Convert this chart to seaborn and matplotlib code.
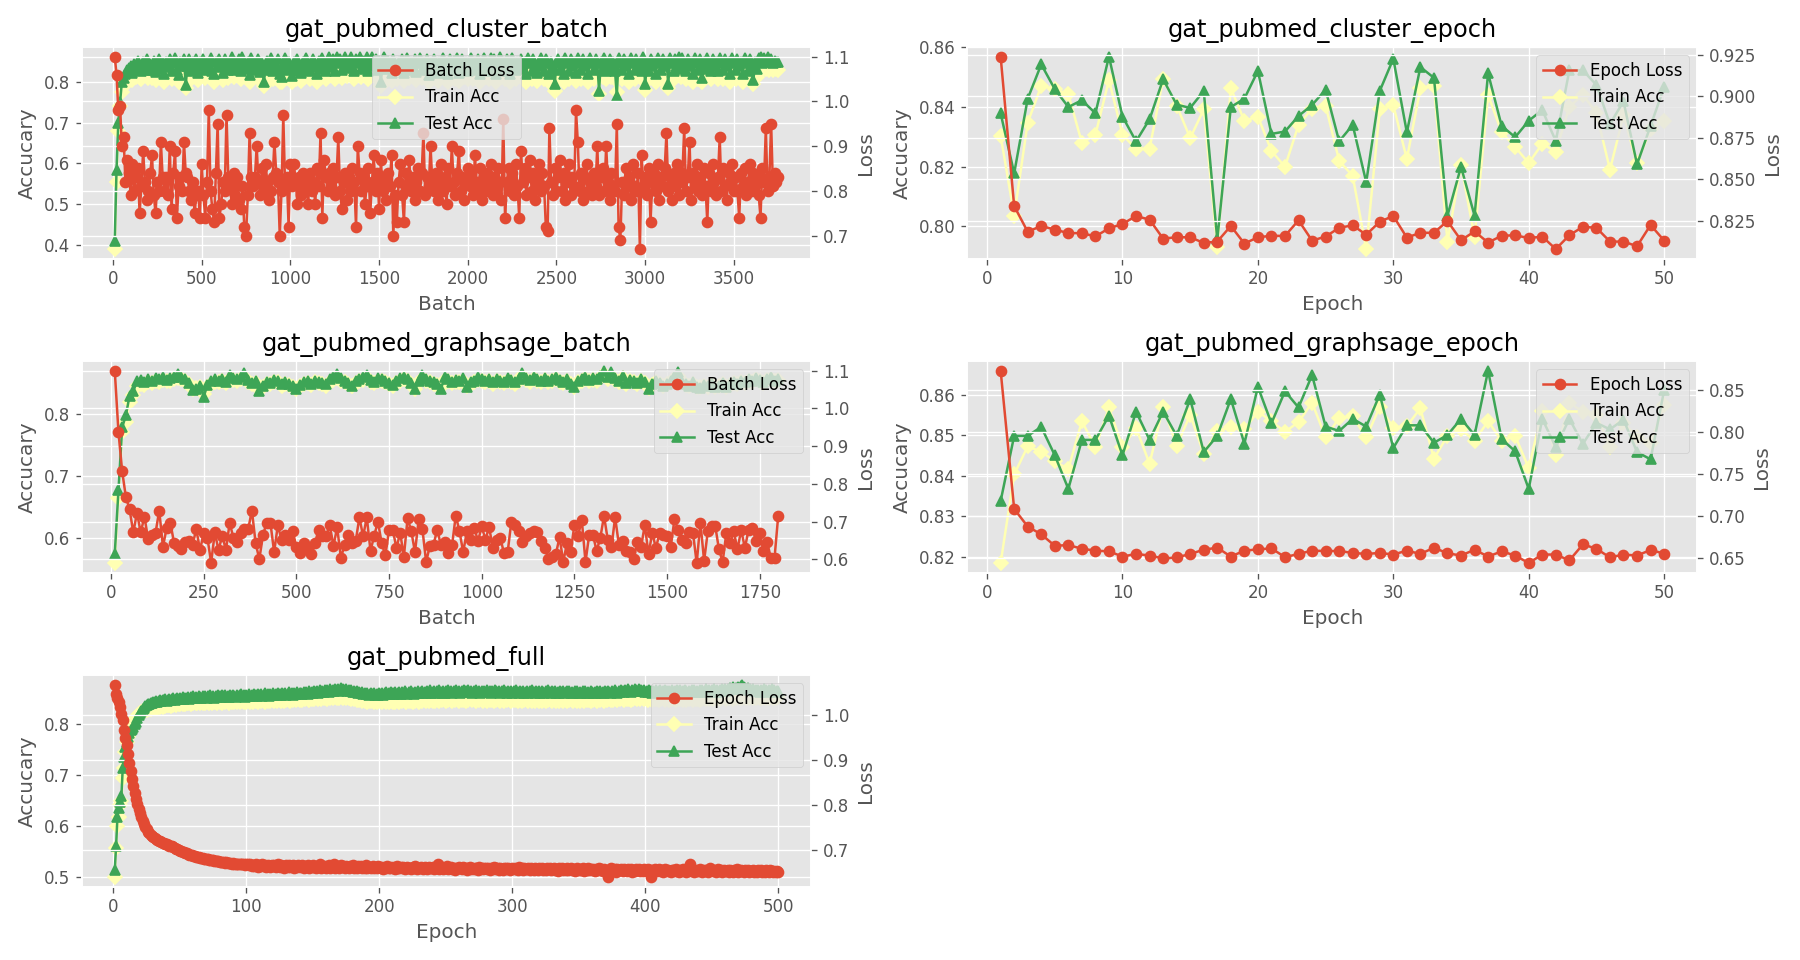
import matplotlib
matplotlib.use("Agg")
import matplotlib.pyplot as plt
import seaborn as sns

# ---------------- data ----------------
# gat_pubmed_cluster_batch (logged every 10 batches)
cb_step = 10
cb_loss = [1.10,1.06,.98,.99,.90,.92,.82,.87,.84,.79,
 .86,.80,.83,.85,.75,.81,.89,.82,.78,.80,
 .84,.88,.79,.75,.82,.80,.91,.83,.80,.83,
 .79,.90,.76,.84,.89,.74,.81,.83,.80,.91,
 .84,.83,.80,.78,.82,.75,.79,.80,.74,.86,
 .79,.74,.82,.98,.80,.76,.73,.84,.95,.74,
 .77,.82,.80,.97,.83,.81,.77,.84,.79,.83,
 .78,.76,.81,.72,.70,.79,.93,.83,.81,.83,
 .90,.82,.79,.85,.80,.86,.82,.78,.80,.83,
 .91,.84,.82,.70,.80,.97,.81,.83,.72,.86,
 .81,.86,.82,.77,.83,.79,.84,.80,.82,.77,
 .84,.80,.82,.77,.85,.81,.93,.74,.87,.83,
 .80,.84,.81,.85,.79,.83,.92,.80,.76,.82,
 .84,.78,.83,.80,.85,.82,.72,.90,.84,.80,
 .83,.77,.81,.85,.75,.82,.88,.80,.84,.76,
 .87,.80,.83,.78,.84,.81,.88,.70,.79,.73,
 .82,.86,.79,.73,.84,.81,.87,.80,.83,.78,
 .82,.85,.80,.84,.93,.79,.83,.81,.90,.82,
 .80,.84,.78,.82,.86,.80,.83,.77,.85,.81,
 .90,.82,.79,.84,.89,.80,.83,.78,.82,.85,
 .81,.84,.79,.88,.82,.80,.85,.78,.83,.80,
 .84,.81,.86,.79,.83,.80,.85,.82,.78,.96,
 .74,.82,.85,.80,.84,.79,.86,.81,.74,.89,
 .82,.85,.79,.83,.87,.80,.84,.78,.82,.86,
 .80,.84,.81,.72,.71,.94,.82,.79,.85,.80,
 .83,.87,.80,.84,.78,.82,.86,.79,.83,.81,
 .98,.91,.80,.84,.78,.83,.86,.80,.82,.79,
 .84,.81,.90,.79,.83,.85,.80,.90,.82,.78,
 .84,.81,.80,.95,.72,.69,.82,.79,.85,.81,
 .83,.78,.86,.81,.80,.84,.67,.88,.80,.83,
 .79,.85,.73,.82,.84,.80,.86,.78,.83,.81,
 .85,.93,.80,.83,.78,.84,.81,.86,.79,.82,
 .84,.94,.80,.83,.91,.78,.84,.81,.86,.80,
 .83,.79,.85,.81,.73,.84,.80,.86,.82,.79,
 .83,.92,.80,.85,.81,.78,.84,.82,.86,.80,
 .83,.80,.74,.84,.81,.85,.79,.82,.86,.80,
 .84,.81,.83,.79,.74,.85,.82,.94,.80,.83,
 .95,.81,.84,.82,.83]
cb_train = [.39,.555,.68,.74,.775,.79,.80,.81,.815,.82,
 .805,.826,.812,.834,.82,.806,.83,.816,.836,.81,
 .826,.81,.834,.805,.825,.838,.812,.828,.80,.83,
 .818,.836,.806,.828,.84,.812,.80,.832,.82,.838,
 .785,.822,.836,.808,.83,.816,.838,.804,.832,.82,
 .836,.81,.828,.82,.84,.806,.80,.832,.816,.836,
 .82,.804,.836,.826,.81,.828,.842,.812,.832,.818,
 .838,.806,.842,.82,.812,.832,.80,.84,.81,.828,
 .818,.838,.805,.828,.79,.82,.834,.808,.84,.806,
 .828,.81,.836,.80,.80,.822,.84,.81,.832,.816,
 .80,.83,.806,.838,.82,.802,.832,.812,.84,.822,
 .806,.83,.838,.816,.80,.834,.812,.84,.824,.806,
 .828,.842,.816,.836,.806,.844,.828,.838,.81,.832,
 .842,.814,.834,.844,.82,.806,.838,.828,.842,.812,
 .834,.818,.842,.806,.83,.844,.82,.838,.81,.834,
 .79,.828,.842,.812,.834,.818,.802,.838,.822,.808,
 .832,.812,.836,.802,.828,.84,.81,.832,.816,.838,
 .804,.828,.84,.81,.832,.816,.838,.80,.828,.82,
 .836,.812,.802,.832,.82,.84,.808,.828,.80,.836,
 .82,.834,.808,.84,.802,.828,.838,.812,.832,.806,
 .828,.84,.808,.832,.818,.838,.80,.828,.84,.812,
 .832,.806,.84,.82,.838,.80,.828,.842,.812,.832,
 .806,.838,.822,.80,.84,.828,.808,.832,.818,.838,
 .812,.832,.80,.84,.828,.806,.838,.82,.802,.832,
 .84,.82,.806,.838,.828,.80,.832,.812,.778,.828,
 .838,.81,.832,.80,.84,.828,.806,.838,.82,.832,
 .802,.84,.828,.808,.838,.82,.832,.80,.84,.828,
 .808,.838,.828,.77,.832,.812,.84,.806,.828,.838,
 .812,.832,.806,.775,.84,.828,.808,.838,.82,.832,
 .80,.84,.828,.808,.838,.82,.832,.806,.842,.78,
 .828,.806,.838,.82,.832,.80,.84,.828,.808,.838,
 .82,.832,.785,.84,.828,.806,.838,.82,.844,.812,
 .84,.828,.806,.838,.82,.832,.80,.84,.828,.808,
 .838,.80,.832,.812,.84,.828,.806,.838,.82,.832,
 .806,.84,.828,.808,.838,.82,.832,.80,.84,.828,
 .808,.838,.82,.832,.80,.84,.828,.806,.838,.82,
 .795,.832,.812,.84,.844,.828,.84,.832,.842,.83,
 .838,.828,.834,.832,.83]
cb_test = [.41,.585,.70,.75,.80,.81,.82,.83,.835,.84,
 .822,.845,.83,.852,.838,.826,.848,.835,.855,.83,
 .845,.828,.852,.824,.844,.856,.832,.846,.82,.848,
 .836,.855,.826,.846,.858,.83,.818,.85,.84,.856,
 .793,.84,.855,.826,.848,.836,.856,.822,.85,.84,
 .855,.83,.846,.84,.858,.826,.82,.85,.836,.855,
 .84,.822,.855,.845,.828,.846,.86,.83,.85,.838,
 .856,.826,.86,.84,.832,.85,.818,.858,.83,.846,
 .838,.856,.824,.846,.80,.84,.852,.828,.858,.826,
 .846,.83,.855,.82,.812,.842,.858,.83,.85,.836,
 .815,.848,.826,.856,.84,.822,.85,.832,.858,.842,
 .826,.848,.856,.836,.82,.852,.832,.858,.844,.826,
 .846,.86,.836,.855,.826,.862,.846,.856,.83,.85,
 .86,.834,.852,.862,.84,.826,.856,.846,.86,.832,
 .852,.838,.86,.826,.848,.862,.84,.856,.83,.852,
 .80,.846,.86,.832,.852,.838,.822,.856,.842,.828,
 .85,.832,.855,.822,.846,.858,.83,.85,.836,.856,
 .824,.846,.858,.83,.85,.836,.856,.818,.846,.84,
 .855,.832,.822,.85,.84,.858,.828,.846,.82,.855,
 .84,.852,.828,.858,.822,.846,.856,.832,.85,.826,
 .846,.858,.828,.85,.838,.856,.82,.846,.858,.832,
 .85,.826,.858,.84,.856,.82,.846,.86,.832,.85,
 .826,.856,.842,.82,.858,.846,.828,.85,.838,.856,
 .832,.85,.82,.858,.846,.826,.856,.84,.822,.85,
 .858,.84,.826,.856,.846,.82,.85,.832,.795,.846,
 .856,.83,.85,.82,.858,.846,.826,.856,.84,.85,
 .822,.858,.846,.828,.856,.84,.85,.82,.858,.846,
 .828,.856,.846,.778,.85,.832,.858,.826,.846,.856,
 .832,.85,.826,.766,.858,.846,.828,.856,.84,.85,
 .82,.858,.846,.828,.856,.84,.85,.826,.86,.795,
 .846,.826,.856,.84,.85,.82,.858,.846,.828,.856,
 .84,.85,.795,.858,.846,.826,.856,.84,.862,.832,
 .858,.846,.826,.856,.84,.85,.82,.858,.846,.828,
 .856,.81,.85,.832,.858,.846,.826,.856,.84,.85,
 .826,.858,.846,.828,.856,.84,.85,.82,.858,.846,
 .828,.856,.84,.85,.82,.858,.846,.826,.856,.84,
 .805,.85,.832,.858,.862,.846,.858,.85,.86,.848,
 .856,.846,.852,.85,.848]

# gat_pubmed_cluster_epoch
ce_loss = [.924,.834,.8185,.822,.8198,.8177,.8177,.8157,.8206,.8232,
 .828,.8258,.8144,.8152,.8152,.8118,.8126,.822,.8114,.8152,
 .8161,.816,.8254,.8132,.8156,.8209,.8224,.8167,.8246,.828,
 .815,.8179,.8179,.825,.8134,.8187,.812,.8161,.8164,.8147,
 .8156,.8081,.8164,.8215,.8209,.8126,.8126,.8098,.8226,.8132]
ce_train = [.8304,.8036,.8348,.8471,.846,.8443,.828,.8307,.8491,.8307,
 .826,.826,.8494,.8405,.8296,.8392,.7932,.8463,.8354,.8368,
 .8253,.820,.834,.8395,.8405,.822,.8169,.7924,.8392,.8406,
 .8226,.8463,.8471,.7949,.8206,.7965,.8441,.8316,.8266,.8212,
 .8277,.825,.8401,.8441,.8381,.819,.8372,.8212,.8326,.8354]
ce_test = [.8379,.8178,.8428,.8543,.846,.84,.8423,.8379,.8569,.8368,
 .8285,.8359,.8493,.8408,.8397,.8454,.7956,.84,.8428,.8521,
 .831,.8318,.837,.8407,.8458,.8285,.834,.8148,.8454,.8562,
 .8315,.8534,.8498,.8036,.82,.8036,.8513,.8337,.8299,.8354,
 .839,.8286,.8523,.8523,.8474,.8343,.8419,.8208,.8337,.8467]

# gat_pubmed_graphsage_batch (logged every 10 batches)
gb_step = 10
gb_loss = [1.10,.937,.833,.765,.732,
 .671,.723,.671,.713,.654,.665,.670,.729,.633,.683,
 .697,.643,.635,.626,.645,.648,.639,.680,.624,.670,
 .657,.591,.671,.624,.663,.624,.697,.657,.645,.670,
 .680,.680,.729,.643,.600,.665,.697,.696,.619,.691,
 .650,.665,.652,.674,.633,.617,.643,.628,.613,.643,
 .678,.661,.661,.691,.635,.685,.604,.637,.665,.642,
 .648,.711,.661,.711,.622,.663,.700,.643,.610,.678,
 .678,.630,.670,.607,.709,.674,.619,.706,.680,.593,
 .635,.639,.678,.637,.645,.617,.637,.716,.674,.619,
 .674,.652,.683,.648,.687,
 .652,.685,.630,.652,.657,.617,.619,.700,.691,.674,
 .645,.663,.670,.674,.671,.648,.630,.602,.607,.613,
 .659,.593,.643,.619,.691,.663,.704,.593,.665,.665,
 .622,.657,.715,.652,.633,.711,.639,.648,.622,.619,
 .602,.645,.633,.691,.613,.670,.630,.670,.665,.663,
 .633,.706,.678,.650,.643,.671,.670,.590,.697,.596,
 .674,.687,.689,.626,.593,.670,.643,.674,.626,.678,
 .630,.678,.683,.648,.670,.622,.645,.604,.604,.716]
gb_train = [.56,.665,.77,.787,.818,.83,.845,.848,.846,.85,
 .849,.852,.851,.854,.852,.853,.855,.857,.855,.852,
 .848,.84,.841,.843,.832,.842,.848,.851,.85,.852,
 .849,.856,.854,.852,.855,.859,.851,.847,.849,.839,
 .843,.848,.847,.85,.85,.845,.848,.846,.843,.84,
 .844,.847,.849,.846,.85,.849,.847,.845,.851,.854,
 .857,.853,.85,.847,.844,.849,.852,.854,.857,.851,
 .849,.853,.852,.85,.847,.845,.849,.853,.855,.852,
 .847,.84,.85,.856,.853,.85,.848,.846,.842,.854,
 .852,.849,.851,.85,.853,.844,.848,.85,.854,.852,
 .85,.853,.848,.852,.85,.849,.853,.851,.848,.853,
 .86,.854,.851,.855,.852,.85,.854,.851,.853,.856,
 .851,.849,.853,.847,.843,.85,.853,.856,.852,.854,
 .853,.857,.863,.855,.861,.854,.851,.857,.848,.852,
 .85,.848,.852,.849,.841,.846,.85,.848,.845,.847,
 .85,.855,.86,.85,.846,.845,.848,.843,.842,.845,
 .843,.846,.842,.844,.847,.843,.846,.849,.847,.85,
 .849,.853,.85,.855,.852,.849,.854,.856,.852,.854]
gb_test = [.575,.678,.778,.797,.829,.836,.852,.854,.851,.856,
 .853,.857,.855,.858,.854,.857,.859,.863,.858,.855,
 .849,.838,.84,.845,.827,.846,.852,.856,.853,.855,
 .851,.862,.857,.855,.859,.865,.854,.849,.852,.837,
 .845,.851,.849,.854,.852,.847,.851,.848,.845,.839,
 .846,.85,.852,.848,.853,.851,.849,.847,.855,.858,
 .863,.857,.853,.849,.845,.852,.856,.858,.862,.854,
 .851,.857,.855,.853,.849,.846,.852,.857,.858,.855,
 .849,.839,.853,.862,.856,.852,.85,.848,.84,.858,
 .855,.851,.854,.852,.857,.843,.85,.853,.858,.855,
 .852,.856,.85,.855,.853,.851,.857,.854,.85,.856,
 .865,.857,.854,.859,.855,.852,.857,.853,.856,.859,
 .854,.851,.856,.848,.842,.853,.856,.859,.854,.857,
 .855,.861,.869,.858,.866,.857,.853,.86,.849,.854,
 .852,.849,.855,.851,.839,.847,.852,.849,.845,.848,
 .852,.858,.867,.851,.847,.845,.85,.843,.841,.846,
 .844,.848,.842,.845,.849,.843,.847,.851,.848,.852,
 .85,.855,.852,.857,.854,.85,.856,.858,.853,.855]

# gat_pubmed_graphsage_epoch
ge_loss = [.8724,.7084,.6875,.6782,.6647,.6655,.6612,.6589,.6581,.6519,
 .655,.6531,.6496,.6508,.655,.66,.6624,.6519,.6589,.6604,
 .6616,.6512,.655,.6589,.6585,.6585,.6562,.655,.6562,.6543,
 .6589,.655,.6624,.6558,.6531,.66,.6519,.6581,.6531,.6442,
 .6543,.6543,.6473,.6663,.6612,.6508,.6543,.6531,.6597,.6554]
ge_train = [.8184,.8403,.8472,.8459,.8435,.8416,.8534,.847,.8568,.847,
 .8518,.8429,.857,.8474,.855,.8454,.851,.852,.8514,.8558,
 .8534,.8508,.8532,.858,.8494,.8542,.8546,.8494,.857,.8518,
 .8522,.8566,.8442,.8498,.8514,.8486,.8534,.8486,.8498,.8418,
 .856,.845,.858,.8557,.855,.8471,.853,.8496,.848,.8573]
ge_test = [.8337,.8498,.8498,.852,.845,.8367,.8488,.8488,.8548,.845,
 .8558,.8488,.8558,.8498,.8589,.8458,.8498,.8589,.8479,.8619,
 .8529,.8608,.8568,.8648,.8521,.851,.854,.8521,.86,.8468,
 .8524,.8524,.8481,.85,.854,.85,.8659,.849,.846,.8367,
 .854,.847,.854,.8478,.853,.8514,.8538,.8458,.844,.861]

# gat_pubmed_full (500 epochs)
fu_loss = [1.067,1.047,1.038,1.028,1.017,1.002,.988,.967,.948,.933,.912,.893,.875,.857,.841,.827,.814,.803,.792,.783,
 .774,.765,.757,.751,.746,.741,.738,.734,.731,.729,.727,.724,.722,.721,.72,.718,.716,.715,.714,.713,
 .711,.71,.708,.709,.707,.705,.703,.702,.70,.698,.697,.696,.695,.694,.694,.692,.69,.689,.688,.687,
 .686,.685,.685,.684,.683,.682,.682,.681,.68,.68,.679,.678,.678,.677,.677,.676,.676,.675,.675,.674,
 .674,.673,.673,.672,.673,.672,.671,.671,.67,.672,.67,.669,.67,.669,.668,.669,.668,.668,.667,.669,
 .668,.666,.67,.665,.667,.664,.669,.666,.663,.667,.665,.668,.664,.666,.662,.667,.665,.663,.666,.664,
 .667,.663,.665,.668,.662,.666,.664,.661,.665,.667,.663,.666,.662,.664,.667,.661,.665,.663,.666,.662,
 .664,.666,.661,.665,.663,.667,.66,.664,.662,.666,.663,.661,.665,.662,.668,.66,.664,.662,.665,.661,
 .663,.666,.66,.664,.662,.67,.661,.665,.663,.66,.666,.662,.664,.661,.665,.663,.659,.664,.662,.666,
 .661,.663,.66,.665,.662,.664,.659,.663,.661,.666,.66,.663,.662,.659,.664,.661,.663,.66,.665,.662,
 .66,.663,.658,.662,.66,.664,.661,.659,.663,.66,.662,.658,.664,.661,.659,.663,.66,.662,.658,.661,
 .663,.659,.661,.657,.662,.66,.664,.658,.661,.659,.663,.66,.657,.662,.66,.658,.663,.661,.659,.662,
 .658,.661,.66,.67,.657,.66,.662,.658,.661,.659,.664,.657,.66,.662,.658,.66,.656,.661,.659,.662,
 .66,.657,.662,.659,.661,.656,.66,.663,.658,.66,.657,.661,.659,.656,.662,.658,.66,.657,.661,.659,
 .658,.661,.656,.66,.658,.662,.657,.659,.661,.656,.66,.658,.655,.661,.659,.657,.66,.656,.658,.661,
 .657,.66,.658,.656,.662,.657,.659,.655,.66,.658,.657,.661,.656,.659,.657,.655,.66,.658,.656,.659,
 .657,.66,.655,.658,.656,.661,.657,.659,.655,.658,.66,.656,.658,.654,.659,.657,.66,.655,.658,.656,
 .659,.655,.657,.66,.656,.658,.654,.657,.659,.655,.658,.656,.66,.654,.657,.655,.659,.656,.658,.655,
 .657,.653,.658,.656,.659,.655,.657,.654,.658,.656,.653,.641,.655,.659,.654,.656,.658,.652,.657,.655,
 .656,.658,.654,.657,.655,.653,.658,.655,.657,.651,.656,.654,.658,.655,.657,.653,.656,.654,.657,.655,
 .653,.657,.655,.64,.656,.654,.658,.655,.653,.657,.654,.656,.652,.655,.657,.653,.656,.654,.652,.656,
 .655,.653,.657,.654,.652,.656,.654,.657,.653,.655,.652,.656,.654,.668,.653,.655,.652,.656,.654,.653,
 .657,.654,.652,.655,.653,.656,.652,.654,.66,.655,.653,.656,.652,.654,.657,.653,.655,.652,.656,.654,
 .653,.655,.652,.656,.654,.651,.655,.653,.657,.652,.654,.656,.653,.651,.655,.653,.656,.652,.654,.653,
 .655,.652,.654,.651,.656,.653,.655,.652,.654,.651,.655,.653,.652,.656,.653,.651,.654,.652,.653,.652]
fu_train = [.50,.558,.60,.617,.642,.65,.694,.714,.746,.766,.775,.785,.79,.797,.805,.81,.813,.817,.82,.822,
 .824,.826,.827,.828,.829,.83,.831,.83,.832,.833,.832,.834,.833,.835,.834,.836,.835,.837,.836,.838,
 .837,.838,.836,.839,.838,.84,.838,.841,.839,.84,.842,.84,.841,.839,.842,.841,.843,.84,.842,.841,
 .843,.841,.842,.844,.842,.843,.841,.844,.842,.845,.843,.841,.844,.842,.845,.843,.844,.842,.845,.843,
 .844,.842,.845,.843,.846,.844,.842,.845,.843,.846,.844,.845,.843,.846,.844,.847,.845,.843,.846,.844,
 .845,.847,.844,.846,.843,.847,.845,.846,.844,.847,.845,.848,.846,.844,.847,.845,.848,.846,.849,.847,
 .845,.848,.846,.849,.847,.845,.848,.846,.849,.847,.85,.848,.846,.849,.847,.85,.848,.851,.849,.847,
 .85,.848,.851,.849,.852,.85,.848,.851,.849,.852,.85,.853,.851,.849,.852,.85,.853,.851,.854,.852,
 .85,.853,.851,.854,.852,.855,.853,.851,.854,.852,.855,.853,.851,.854,.852,.853,.851,.852,.85,.851,
 .849,.851,.848,.85,.847,.849,.846,.848,.845,.847,.844,.846,.848,.845,.847,.844,.846,.843,.847,.845,
 .846,.844,.847,.845,.843,.846,.844,.847,.845,.843,.846,.844,.848,.845,.843,.847,.845,.848,.846,.844,
 .847,.845,.848,.846,.844,.847,.845,.849,.846,.844,.848,.846,.849,.847,.845,.848,.846,.85,.847,.845,
 .848,.846,.85,.847,.845,.849,.847,.85,.848,.846,.849,.847,.85,.848,.846,.849,.847,.851,.848,.846,
 .849,.847,.85,.848,.846,.85,.848,.851,.849,.847,.85,.848,.846,.849,.847,.851,.848,.846,.85,.848,
 .846,.849,.847,.85,.848,.846,.849,.847,.851,.848,.846,.85,.848,.845,.849,.847,.85,.848,.846,.849,
 .847,.85,.848,.846,.849,.847,.845,.849,.847,.85,.848,.846,.849,.847,.845,.848,.846,.85,.847,.845,
 .848,.846,.849,.847,.845,.849,.847,.85,.848,.846,.849,.847,.845,.848,.846,.85,.848,.846,.849,.847,
 .845,.849,.847,.85,.848,.846,.849,.847,.845,.848,.846,.85,.847,.845,.849,.847,.85,.848,.846,.849,
 .847,.85,.848,.846,.849,.847,.851,.848,.846,.85,.848,.851,.849,.847,.85,.848,.852,.849,.847,.851,
 .849,.852,.85,.848,.851,.849,.853,.85,.848,.852,.85,.853,.851,.849,.852,.85,.854,.851,.849,.852,
 .85,.848,.851,.849,.847,.851,.849,.852,.85,.848,.851,.849,.853,.85,.848,.852,.85,.847,.851,.849,
 .852,.85,.848,.851,.849,.853,.85,.848,.852,.85,.847,.851,.849,.852,.85,.848,.851,.849,.853,.85,
 .848,.852,.85,.853,.851,.849,.852,.85,.854,.851,.849,.853,.851,.854,.852,.85,.853,.851,.855,.852,
 .85,.853,.851,.854,.852,.85,.854,.852,.855,.853,.851,.854,.852,.855,.853,.851,.854,.852,.855,.853,
 .851,.854,.852,.855,.853,.851,.854,.852,.855,.853,.851,.854,.852,.856,.853,.851,.854,.852,.855,.853]
fu_test = [.513,.561,.617,.636,.648,.659,.714,.735,.755,.766,.775,.782,.788,.79,.795,.80,.805,.812,.818,.822,
 .826,.83,.833,.836,.838,.84,.839,.842,.841,.844,.843,.845,.844,.846,.847,.845,.848,.847,.849,.846,
 .848,.85,.847,.849,.851,.848,.85,.852,.849,.851,.85,.853,.849,.852,.851,.854,.85,.853,.852,.855,
 .851,.854,.852,.855,.853,.851,.855,.853,.856,.852,.855,.854,.857,.853,.855,.852,.856,.854,.857,.855,
 .853,.857,.855,.858,.854,.856,.853,.857,.855,.858,.856,.854,.858,.855,.857,.859,.855,.857,.854,.858,
 .856,.859,.855,.858,.856,.86,.857,.855,.859,.857,.86,.856,.858,.861,.857,.859,.856,.86,.858,.861,
 .857,.86,.858,.862,.859,.857,.861,.859,.862,.858,.86,.863,.859,.861,.858,.862,.86,.863,.859,.861,
 .862,.86,.864,.861,.863,.86,.865,.862,.864,.861,.866,.863,.865,.862,.867,.864,.866,.863,.868,.865,
 .867,.864,.869,.866,.868,.865,.87,.867,.869,.866,.871,.868,.87,.867,.869,.866,.868,.865,.867,.864,
 .866,.863,.865,.862,.864,.861,.863,.86,.862,.859,.861,.858,.86,.862,.859,.861,.858,.86,.857,.861,
 .859,.862,.858,.861,.863,.859,.862,.86,.864,.861,.859,.863,.86,.862,.864,.86,.863,.861,.865,.862,
 .86,.864,.861,.866,.862,.86,.864,.862,.865,.861,.863,.866,.862,.864,.861,.865,.863,.867,.862,.864,
 .866,.862,.865,.863,.867,.864,.861,.865,.862,.866,.864,.868,.863,.865,.862,.866,.864,.867,.863,.865,
 .862,.866,.864,.868,.865,.863,.867,.864,.866,.862,.865,.863,.867,.864,.866,.862,.865,.863,.866,.864,
 .867,.863,.865,.862,.866,.864,.868,.865,.863,.866,.862,.865,.863,.867,.864,.861,.865,.863,.866,.862,
 .865,.863,.867,.864,.862,.866,.863,.865,.861,.864,.866,.862,.865,.863,.867,.864,.862,.866,.863,.865,
 .862,.866,.864,.861,.865,.863,.867,.864,.862,.865,.863,.866,.862,.864,.861,.865,.863,.866,.862,.864,
 .866,.863,.865,.861,.864,.862,.866,.863,.865,.862,.864,.861,.865,.863,.866,.862,.864,.862,.865,.863,
 .861,.864,.862,.866,.863,.865,.862,.864,.861,.865,.863,.866,.864,.862,.865,.863,.867,.864,.862,.866,
 .864,.867,.865,.863,.868,.865,.869,.866,.864,.868,.866,.87,.867,.865,.869,.866,.868,.865,.867,.864,
 .866,.863,.867,.865,.862,.866,.864,.867,.863,.865,.868,.864,.866,.863,.867,.865,.862,.866,.864,.867,
 .864,.866,.863,.867,.865,.868,.864,.866,.863,.867,.865,.862,.866,.864,.868,.865,.867,.864,.866,.863,
 .867,.865,.868,.864,.866,.869,.865,.867,.864,.868,.866,.869,.865,.867,.864,.868,.866,.87,.867,.869,
 .866,.87,.868,.871,.869,.873,.87,.872,.869,.874,.871,.875,.878,.874,.871,.869,.872,.868,.87,.867,
 .869,.866,.868,.865,.867,.864,.868,.866,.869,.865,.867,.864,.868,.866,.869,.865,.867,.864,.866,.865]

# ---------------- style ----------------
plt.style.use("ggplot")
plt.rcParams["font.family"] = ["DejaVu Sans"]

C_LOSS = "#E24A33"
C_TRAIN = "#FFFFB3"
C_TEST = "#3DA556"


def xs(n, start, step):
    return [start + step * i for i in range(n)]


def panel(ax, title, xlabel, loss_label, loss, train, test, start, step, loc):
    ax2 = ax.twinx()
    common = dict(estimator=None, sort=False, errorbar=None, legend=False)
    sns.lineplot(x=xs(len(train), start, step), y=train, ax=ax, color=C_TRAIN,
                 marker="D", markeredgecolor=C_TRAIN, markeredgewidth=1.0,
                 label="Train Acc", **common)
    sns.lineplot(x=xs(len(test), start, step), y=test, ax=ax, color=C_TEST,
                 marker="^", markeredgecolor=C_TEST, markeredgewidth=1.0,
                 label="Test Acc", **common)
    sns.lineplot(x=xs(len(loss), start, step), y=loss, ax=ax2, color=C_LOSS,
                 marker="o", markeredgecolor=C_LOSS, markeredgewidth=1.0,
                 label=loss_label, **common)
    ax.set_title(title)
    ax.set_xlabel(xlabel)
    ax.set_ylabel("Accucary")
    ax2.set_ylabel("Loss")
    handles = [ax2.lines[0], ax.lines[0], ax.lines[1]]
    labels = [loss_label, "Train Acc", "Test Acc"]
    ax2.legend(handles, labels, loc=loc)


fig, axes = plt.subplots(3, 2, figsize=(15, 8), dpi=120)
panel(axes[0, 0], "gat_pubmed_cluster_batch", "Batch", "Batch Loss",
      cb_loss, cb_train, cb_test, cb_step, cb_step, "upper center")
panel(axes[0, 1], "gat_pubmed_cluster_epoch", "Epoch", "Epoch Loss",
      ce_loss, ce_train, ce_test, 1, 1, "upper right")
panel(axes[1, 0], "gat_pubmed_graphsage_batch", "Batch", "Batch Loss",
      gb_loss, gb_train, gb_test, gb_step, gb_step, "upper right")
panel(axes[1, 1], "gat_pubmed_graphsage_epoch", "Epoch", "Epoch Loss",
      ge_loss, ge_train, ge_test, 1, 1, "upper right")
panel(axes[2, 0], "gat_pubmed_full", "Epoch", "Epoch Loss",
      fu_loss, fu_train, fu_test, 1, 1, "upper right")
fig.delaxes(axes[2, 1])

fig.tight_layout()
fig.savefig("out.png", dpi=120)
